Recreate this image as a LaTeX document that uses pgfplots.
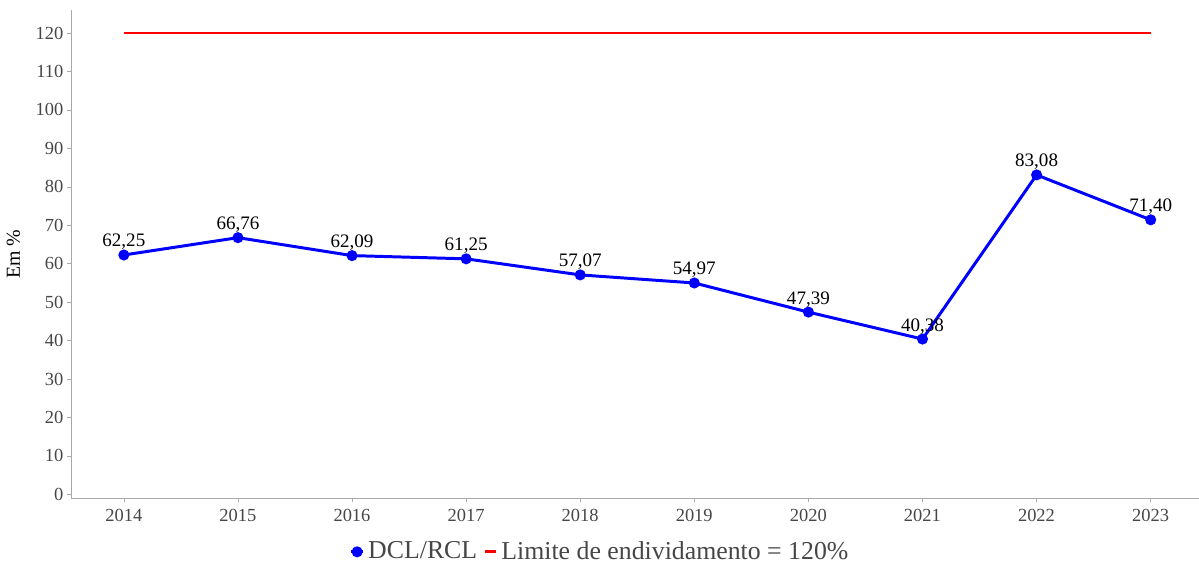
\documentclass[border=0pt]{standalone}
\usepackage{fontspec}
\setmainfont{Liberation Serif}
\usepackage{pgfplots}
\pgfplotsset{compat=1.18}

\definecolor{dclblue}{RGB}{0,0,255}
\definecolor{limred}{RGB}{255,0,0}
\definecolor{axgray}{RGB}{170,170,170}
\definecolor{txtgray}{RGB}{70,70,70}

\begin{document}
\begin{tikzpicture}
\begin{axis}[
    name=main,
    scale only axis,
    width=568pt, height=246pt,
    xmin=2013.54, xmax=2023.42,
    ymin=-1, ymax=126,
    axis lines=left,
    axis line style={draw=axgray, -},
    xtick={2014,...,2023},
    ytick={0,10,...,120},
    x tick label style={/pgf/number format/.cd, set thousands separator={}, assume math mode=true},
    y tick label style={/pgf/number format/assume math mode=true, xshift=1.5pt},
    tick style={draw=axgray},
    tick align=outside,
    major tick length=2pt,
    ticklabel style={font=\fontsize{9.3}{10}\selectfont, text=txtgray},
    ylabel={Em \%},
    ylabel style={font=\fontsize{9.5}{10}\selectfont, text=txtgray},
    every axis y label/.style={at={(ticklabel cs:0.5)}, rotate=90, anchor=near ticklabel, yshift=1pt},
    legend columns=2,
    legend style={draw=none, fill=none, at={(0.47,-0.11)}, anchor=center,
        font=\fontsize{13}{14}\selectfont, text=txtgray,
        /tikz/every even column/.append style={column sep=1pt}},
    legend image code/.code={
        \draw[mark repeat=2, mark phase=2, #1] plot coordinates {(0cm,0cm) (0.1cm,0cm) (0.2cm,0cm)};
    },
    clip=false,
]
\addplot[color=dclblue, line width=1.5pt, mark=*, mark size=2pt,
    nodes near coords, point meta=explicit symbolic,
    every node near coord/.append style={font=\fontsize{9.6}{10}\selectfont, text=black, anchor=south, yshift=-1.5pt}]
    table[meta=label] {
x y label
2014 62.25 {62,25}
2015 66.76 {66,76}
2016 62.09 {62,09}
2017 61.25 {61,25}
2018 57.07 {57,07}
2019 54.97 {54,97}
2020 47.39 {47,39}
2021 40.38 {40,38}
2022 83.08 {83,08}
2023 71.40 {71,40}
};
\addlegendentry{DCL/RCL}
\addplot[color=limred, line width=1.5pt] coordinates {
    (2014,120) (2015,120) (2016,120) (2017,120) (2018,120)
    (2019,120) (2020,120) (2021,120) (2022,120) (2023,120)
};
\addlegendentry{Limite de endividamento = 120\%}
\end{axis}
\path (main.north) -- ++(0,5pt);
\end{tikzpicture}
\end{document}
